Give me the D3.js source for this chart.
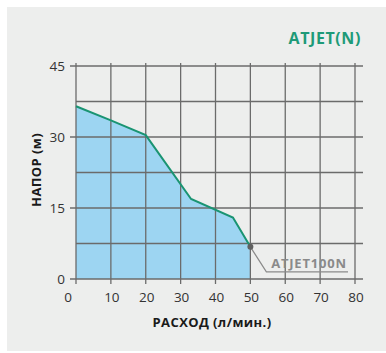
<!DOCTYPE html>
<html><head><meta charset="utf-8">
<script src="https://cdn.jsdelivr.net/npm/d3@7"></script>
<style>body{margin:0;background:#fff}svg{display:block}</style>
</head><body>
<svg id="c" width="386" height="353"></svg>
<script>
const flow = [0, 10, 20, 33, 45, 50];
const head = [36.5, 33.5, 30.4, 16.9, 13.0, 6.8];
const xTicks = [0,10,20,30,40,50,60,70,80];
const yTicks = [0,15,30,45];
const yGrid = [0,7.5,15,22.5,30,37.5,45];
const title = "ATJET(N)";
const seriesName = "ATJET100N";
const xLabel = "РАСХОД (л/мин.)";
const yLabel = "НАПОР (м)";

const svg = d3.select("#c");
svg.append("rect").attr("x",7).attr("y",7).attr("width",379).attr("height",344).attr("fill","#edeeed");
const x = d3.scaleLinear().domain([0,80]).range([76,355]);
const y = d3.scaleLinear().domain([0,45]).range([279,66]);
const font = "'Open Sans', sans-serif";
const pts = flow.map((f,i)=>[f,head[i]]);

// area
svg.append("path").datum(pts)
  .attr("d", d3.area().x(d=>x(d[0])).y0(y(0)).y1(d=>y(d[1])))
  .attr("fill","#9dd5f2");

// grid
const gc = "#6b6b6b";
svg.append("g").selectAll("line").data(xTicks).join("line")
  .attr("x1",d=>x(d)).attr("x2",d=>x(d)).attr("y1",y(45)-3).attr("y2",y(0)+5)
  .attr("stroke",gc).attr("stroke-width",1.3);
svg.append("g").selectAll("line").data(yGrid).join("line")
  .attr("x1",d=>yTicks.includes(d)?x(0)-6:x(0)).attr("x2",363).attr("y1",d=>y(d)).attr("y2",d=>y(d))
  .attr("stroke",gc).attr("stroke-width",1.3);

// line
svg.append("path").datum(pts)
  .attr("d", d3.line().x(d=>x(d[0])).y(d=>y(d[1])))
  .attr("fill","none").attr("stroke","#1a9472").attr("stroke-width",2);

// end point + leader
const last = pts[pts.length-1];
svg.append("polyline")
  .attr("points",[[x(last[0]),y(last[1])],[x(last[0])+16,y(last[1])+25],[348,y(last[1])+25]].map(p=>p.join(",")).join(" "))
  .attr("fill","none").attr("stroke","#8a8a8a").attr("stroke-width",1.2);
svg.append("circle").attr("cx",x(last[0])).attr("cy",y(last[1])).attr("r",3).attr("fill","#606060");
svg.append("text").attr("x",309).attr("y",268).attr("text-anchor","middle")
  .attr("font-family",font).attr("font-weight",700).attr("font-size",13).attr("letter-spacing",0.8)
  .attr("fill","#8a8a8a").text(seriesName);

// tick labels
svg.append("g").selectAll("text").data(xTicks).join("text")
  .attr("x",d=>x(d)+(d===0?-8:1)).attr("y",302).attr("text-anchor","middle")
  .attr("font-family",font).attr("font-size",13.5).attr("fill","#333").text(d=>d);
svg.append("g").selectAll("text").data(yTicks).join("text")
  .attr("x",65).attr("y",d=>y(d)+5).attr("text-anchor","end")
  .attr("font-family",font).attr("font-size",13.5).attr("fill","#333").text(d=>d);

// axis labels
svg.append("text").attr("x",212).attr("y",327).attr("text-anchor","middle")
  .attr("font-family",font).attr("font-weight",700).attr("font-size",13).attr("letter-spacing",0.4)
  .attr("fill","#1a1a1a").text(xLabel);
svg.append("text").attr("transform","translate(41,170) rotate(-90)").attr("text-anchor","middle")
  .attr("font-family",font).attr("font-weight",700).attr("font-size",13).attr("letter-spacing",0.4)
  .attr("fill","#1a1a1a").text(yLabel);

// title
svg.append("text").attr("x",361).attr("y",44).attr("text-anchor","end")
  .attr("font-family",font).attr("font-weight",700).attr("font-size",16).attr("letter-spacing",0.6)
  .attr("fill","#1e9a78").text(title);
</script>
</body></html>
